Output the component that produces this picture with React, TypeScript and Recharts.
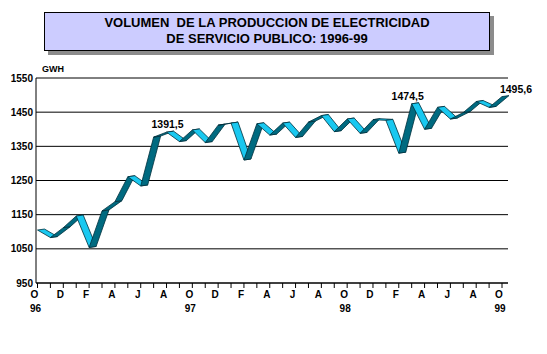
import { LineChart, Line, XAxis, YAxis, CartesianGrid, LabelList } from "recharts";

// Oct 1996 - Oct 1999, monthly
const periods = [
  "oct-96", "nov-96", "dic-96",
  "ene-97", "feb-97", "mar-97", "abr-97", "may-97", "jun-97", "jul-97", "ago-97", "sep-97", "oct-97", "nov-97", "dic-97",
  "ene-98", "feb-98", "mar-98", "abr-98", "may-98", "jun-98", "jul-98", "ago-98", "sep-98", "oct-98", "nov-98", "dic-98",
  "ene-99", "feb-99", "mar-99", "abr-99", "may-99", "jun-99", "jul-99", "ago-99", "sep-99", "oct-99",
];

// GWH
const gwh = [
  1105, 1083, 1112,
  1146, 1054, 1161, 1188, 1261, 1234, 1377, 1391.5, 1364, 1398, 1361, 1412,
  1418, 1310, 1416, 1383, 1418, 1376, 1421, 1440, 1393, 1430, 1388, 1428,
  1426, 1330, 1474.5, 1400, 1464, 1430, 1449, 1481, 1464, 1495.6,
];

const yTicks = [950, 1050, 1150, 1250, 1350, 1450, 1550];
const labelled = [10, 29, 36];

const data = periods.map((p, i) => ({ period: p, value: gwh[i] }));

const FONT = "'Liberation Sans', Arial, sans-serif";
const DEPTH_X = 7;
const DEPTH_Y = 1;

// front edge points, filled as the dots get drawn (left to right)
const pts: { x: number; y: number }[] = [];

const RibbonSegment = (props: any) => {
  const { cx, cy, index } = props;
  pts[index] = { x: cx, y: cy };
  if (index === 0) return <g key={`seg-${index}`} />;
  const p = pts[index - 1];
  const rising = cy < p.y;
  const poly = [
    [p.x, p.y],
    [cx, cy],
    [cx + DEPTH_X, cy - DEPTH_Y],
    [p.x + DEPTH_X, p.y - DEPTH_Y],
  ]
    .map((c) => c.join(","))
    .join(" ");
  return (
    <polygon
      key={`seg-${index}`}
      points={poly}
      fill={rising ? "#006a80" : "#19c8f0"}
      stroke="#00303c"
      strokeWidth={0.8}
      strokeLinejoin="round"
    />
  );
};

const MonthTick = (props: any) => {
  const { x, y, payload } = props;
  const i = payload.index;
  if (i % 2 !== 0) return <g />;
  const [m, yr] = String(payload.value).split("-");
  return (
    <g fontFamily={FONT} fontWeight="bold" fontSize={10} fill="#000">
      <text x={x - 3} y={y + 8} textAnchor="middle">
        {m[0].toUpperCase()}
      </text>
      {m === "oct" && (
        <text x={x - 2} y={y + 22} textAnchor="middle">
          {yr}
        </text>
      )}
    </g>
  );
};

const ValueLabel = (props: any) => {
  const { x, y, value, index } = props;
  if (!labelled.includes(index)) return null;
  const dx = index === 36 ? 14 : index === 29 ? -4 : 1;
  return (
    <text
      x={x + dx}
      y={y - 4}
      textAnchor="middle"
      fontFamily={FONT}
      fontWeight="bold"
      fontSize={10.5}
      fill="#000"
    >
      {String(value).replace(".", ",")}
    </text>
  );
};

export default function App() {
  return (
    <div style={{ position: "absolute", left: 0, top: 0, width: 547, height: 354, background: "#fff" }}>
      <div
        style={{
          position: "absolute",
          left: 44,
          top: 12,
          width: 444,
          height: 35,
          background: "#ccccff",
          border: "1px solid #000",
          boxShadow: "4px 4px 0 #8c8c8c",
          fontFamily: FONT,
          fontWeight: "bold",
          fontSize: 13,
          lineHeight: "16px",
          textAlign: "center",
          paddingTop: 2,
        }}
      >
        <div>VOLUMEN&nbsp; DE LA PRODUCCION DE ELECTRICIDAD</div>
        <div>DE SERVICIO PUBLICO: 1996-99</div>
      </div>
      <div
        style={{
          position: "absolute",
          left: 42,
          top: 64,
          fontFamily: FONT,
          fontWeight: "bold",
          fontSize: 9,
        }}
      >
        GWH
      </div>
      <LineChart
        width={547}
        height={354}
        data={data}
        margin={{ top: 78, right: 39, left: 0, bottom: 31 }}
      >
        <CartesianGrid vertical={false} stroke="#000" strokeWidth={1} />
        <XAxis
          dataKey="period"
          interval={0}
          tick={<MonthTick />}
          tickSize={5}
          height={40}
          padding={{ left: 1.5, right: 6 }}
          axisLine={{ stroke: "#000" }}
          tickLine={{ stroke: "#000" }}
        />
        <YAxis
          domain={[950, 1550]}
          ticks={yTicks}
          width={36}
          tickLine={false}
          tickSize={3}
          tickMargin={0}
          axisLine={{ stroke: "#000" }}
          tick={{ fontFamily: FONT, fontWeight: "bold", fontSize: 10, fill: "#000" }}
        />
        <Line
          dataKey="value"
          stroke="none"
          dot={RibbonSegment}
          activeDot={false}
          isAnimationActive={false}
        >
          <LabelList dataKey="value" content={ValueLabel} />
        </Line>
      </LineChart>
    </div>
  );
}
